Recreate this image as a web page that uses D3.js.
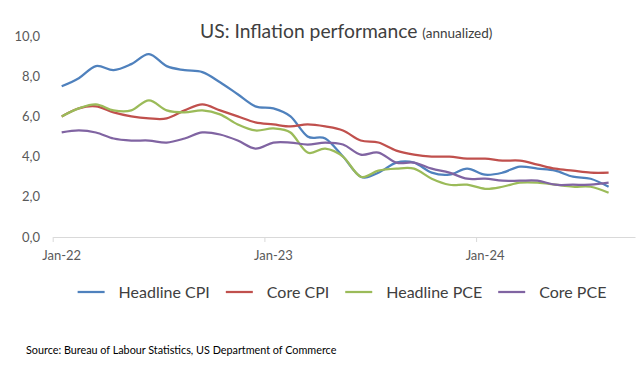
<!DOCTYPE html>
<html>
<head>
<meta charset="utf-8">
<script src="https://cdn.jsdelivr.net/npm/d3@7"></script>
<style>
  body { margin: 0; background: #fff; }
  svg { display: block; font-family: Lato, "Open Sans", sans-serif; }
</style>
</head>
<body>
<svg width="640" height="371"></svg>
<script>
// monthly readings, Jan-22 .. Aug-24 (% y/y)
var months = [
    "2022-01","2022-02","2022-03","2022-04","2022-05","2022-06","2022-07","2022-08","2022-09","2022-10","2022-11","2022-12",
    "2023-01","2023-02","2023-03","2023-04","2023-05","2023-06","2023-07","2023-08","2023-09","2023-10","2023-11","2023-12",
    "2024-01","2024-02","2024-03","2024-04","2024-05","2024-06","2024-07","2024-08"
];
var headlineCPI = [7.5,7.9,8.5,8.3,8.6,9.1,8.5,8.3,8.2,7.7,7.1,6.5, 6.4,6.0,5.0,4.9,4.0,3.0,3.2,3.7,3.7,3.2,3.1,3.4, 3.1,3.2,3.5,3.4,3.3,3.0,2.9,2.5];
var coreCPI     = [6.0,6.4,6.5,6.2,6.0,5.9,5.9,6.3,6.6,6.3,6.0,5.7, 5.6,5.5,5.6,5.5,5.3,4.8,4.7,4.3,4.1,4.0,4.0,3.9, 3.9,3.8,3.8,3.6,3.4,3.3,3.2,3.2];
var headlinePCE = [6.0,6.4,6.6,6.3,6.3,6.8,6.3,6.2,6.3,6.1,5.6,5.3, 5.4,5.2,4.2,4.4,4.0,3.0,3.3,3.4,3.4,2.9,2.6,2.6, 2.4,2.5,2.7,2.7,2.6,2.5,2.5,2.2];
var corePCE     = [5.2,5.3,5.2,4.9,4.8,4.8,4.7,4.9,5.2,5.1,4.8,4.4, 4.7,4.7,4.6,4.7,4.6,4.1,4.2,3.7,3.7,3.4,3.2,2.9, 2.9,2.8,2.8,2.8,2.6,2.6,2.6,2.7];

var seriesNames = ["Headline CPI", "Core CPI", "Headline PCE", "Core PCE"];
var yTicks = [0, 2, 4, 6, 8, 10];
var xTicks = ["2022-01", "2023-01", "2024-01"];

var svg = d3.select("svg");
var parseMonth = d3.timeParse("%Y-%m");

var x = d3.scaleTime()
    .domain([parseMonth("2022-01"), parseMonth("2024-10")])
    .range([52.7, 635]);
var y = d3.scaleLinear().domain([0, 10]).range([237, 36]);
var z = d3.scaleOrdinal().domain(seriesNames).range(["#4F81BD", "#C0504D", "#9BBB59", "#8064A2"]);

// points sit in the middle of their month
function midMonth(s) {
    var d = parseMonth(s);
    return new Date((+d + +d3.timeMonth.offset(d, 1)) / 2);
}

var series = [headlineCPI, coreCPI, headlinePCE, corePCE].map(function(vals, i) {
    return {
        id: seriesNames[i],
        values: vals.map(function(v, j) { return {date: midMonth(months[j]), value: v}; })
    };
});

// Title
var title = svg.append("text")
    .attr("x", 200)
    .attr("y", 38)
    .attr("fill", "#404040");
title.append("tspan").style("font-size", "19.3px").text("US: Inflation performance ");
title.append("tspan").style("font-size", "13.5px").text("(annualized)");

// Y labels (no axis line)
svg.append("g").selectAll("text")
    .data(yTicks)
    .enter().append("text")
    .attr("x", 40)
    .attr("y", function(d) { return y(d); })
    .attr("dy", "0.35em")
    .attr("text-anchor", "end")
    .attr("fill", "#595959")
    .style("font-size", "13px")
    .text(function(d) { return d3.format(".1f")(d).replace(".", ","); });

// X axis
var xAxis = svg.append("g")
    .attr("transform", "translate(0," + y(0) + ")")
    .call(d3.axisBottom(x)
        .tickValues(xTicks.map(parseMonth))
        .tickSizeInner(5)
        .tickSizeOuter(0)
        .tickFormat(""));
xAxis.select(".domain").attr("stroke", "#D9D9D9");
xAxis.selectAll(".tick line").attr("stroke", "#D9D9D9");

svg.append("g").selectAll("text")
    .data(xTicks)
    .enter().append("text")
    .attr("x", function(d) { return x(midMonth(d)); })
    .attr("y", y(0) + 18)
    .attr("dy", "0.35em")
    .attr("text-anchor", "middle")
    .attr("fill", "#595959")
    .style("font-size", "13px")
    .text(function(d) { return d3.timeFormat("%b-%y")(parseMonth(d)); });

// Lines
var line = d3.line()
    .curve(d3.curveCardinal.tension(0))
    .x(function(d) { return x(d.date); })
    .y(function(d) { return y(d.value); });

svg.append("g").selectAll("path")
    .data(series)
    .enter().append("path")
    .attr("fill", "none")
    .attr("stroke-width", 2.25)
    .attr("stroke-linejoin", "round")
    .attr("stroke", function(d) { return z(d.id); })
    .attr("d", function(d) { return line(d.values); });

// Legend
var legend = svg.append("g");
var item = legend.selectAll("g")
    .data(seriesNames)
    .enter().append("g");
item.append("line")
    .attr("x1", 0).attr("x2", 27)
    .attr("stroke-width", 2.25)
    .attr("stroke", function(d) { return z(d); });
item.append("text")
    .attr("x", 41)
    .attr("dy", "0.35em")
    .attr("fill", "#404040")
    .style("font-size", "16px")
    .text(function(d) { return d; });

var pos = 0;
item.each(function() {
    var w = this.getBBox().width;
    d3.select(this).attr("transform", "translate(" + pos + ",0)");
    pos += w + 16;
});
legend.attr("transform", "translate(" + (342 - (pos - 16) / 2) + ",292)");

// Source
svg.append("text")
    .attr("x", 26)
    .attr("y", 350)
    .attr("dy", "0.35em")
    .attr("fill", "#000")
    .style("font-size", "10.8px")
    .text("Source: Bureau of Labour Statistics, US Department of Commerce");
</script>
</body>
</html>
